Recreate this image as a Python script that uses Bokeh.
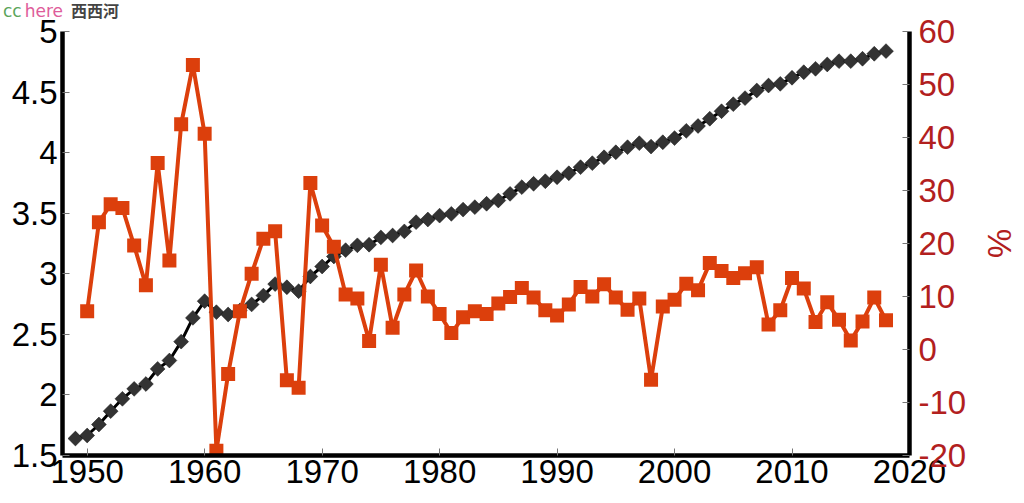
import numpy as np
from bokeh.plotting import figure
from bokeh.models import Range1d, LinearAxis, FixedTicker, Div
from bokeh.layouts import column
from bokeh.embed import file_html
from bokeh.resources import INLINE

# ---- data ----
level_years = list(range(1949, 2019))
level = [1.64, 1.665, 1.756, 1.866, 1.968, 2.05, 2.09, 2.215, 2.284, 2.44,
         2.636, 2.774, 2.683, 2.664, 2.697, 2.747, 2.82, 2.915, 2.889, 2.856,
         2.978, 3.06, 3.143, 3.195, 3.235, 3.24, 3.30, 3.316, 3.35, 3.426,
         3.448, 3.48, 3.495, 3.53, 3.55, 3.578, 3.605, 3.66, 3.715, 3.743,
         3.764, 3.797, 3.83, 3.88, 3.913, 3.962, 4.003, 4.045, 4.078, 4.05,
         4.086, 4.12, 4.18, 4.22, 4.28, 4.342, 4.40, 4.45, 4.513, 4.554,
         4.568, 4.618, 4.664, 4.692, 4.728, 4.755, 4.755, 4.775, 4.816, 4.838]

growth_years = list(range(1950, 2019))
growth = [7.2, 24.0, 27.4, 26.7, 19.6, 12.1, 35.2, 16.8, 42.5, 53.7,
          40.7, -19.1, -4.6, 7.2, 14.3, 20.9, 22.3, -5.8, -7.2, 31.4,
          23.4, 19.4, 10.4, 9.6, 1.6, 16.0, 4.1, 10.4, 14.9, 10.0,
          6.7, 3.1, 6.1, 7.2, 6.7, 8.7, 9.9, 11.6, 9.8, 7.4,
          6.4, 8.5, 11.8, 10.0, 12.3, 9.8, 7.5, 9.6, -5.7, 8.1,
          9.4, 12.4, 11.2, 16.3, 14.8, 13.5, 14.4, 15.5, 4.7, 7.4,
          13.5, 11.5, 5.2, 8.9, 5.6, 1.7, 5.3, 9.8, 5.5]

x_ticks = [1950, 1960, 1970, 1980, 1990, 2000, 2010, 2020]
left_ticks = [1.5, 2, 2.5, 3, 3.5, 4, 4.5, 5]
left_labels = ["1.5", "2", "2.5", "3", "3.5", "4", "4.5", "5"]
right_ticks = [-20, -10, 0, 10, 20, 30, 40, 50, 60]
right_labels = ["-20", "-10", "0", "10", "20", "30", "40", "50", "60"]
right_title = "%"
watermark = [("cc", "#5BA55B"), ("here", "#DE5C9A"), ("西西河", "#444444")]

BLACK = "#333333"
RED = "#DC3F0C"
DARKRED = "#B2201E"
FONT = "Liberation Sans"

W, H = 1024, 503
HEAD = 10  # height of the watermark strip (its text overflows onto the transparent figure border)

wm_html = (
    f'<span style="color:{watermark[0][1]};font-family:\'DejaVu Sans\';font-size:17px">{watermark[0][0]}</span>'
    f'<span style="color:{watermark[1][1]};font-family:\'DejaVu Sans\';font-size:17px;margin-left:3px">{watermark[1][0]}</span>'
    f'<span style="color:{watermark[2][1]};font-family:\'Noto Sans CJK SC\';font-size:16px;font-weight:bold;margin-left:8px">{watermark[2][0]}</span>'
)
div = Div(text=wm_html, width=W, height=HEAD, margin=(0, 0, 0, 0),
          styles={"padding-left": "3px", "padding-top": "1px", "line-height": "18px",
                  "white-space": "nowrap", "overflow": "visible"})

p = figure(width=W, height=H - HEAD, output_backend="svg", toolbar_location=None,
           x_range=Range1d(1947.9, 2020), y_range=Range1d(1.5, 5),
           min_border_left=62, min_border_right=115, min_border_top=31 - HEAD,
           min_border_bottom=48, margin=(0, 0, 0, 0))
p.extra_y_ranges = {"pct": Range1d(-20, 60)}
p.outline_line_color = None
p.xgrid.visible = False
p.ygrid.visible = False
p.background_fill_color = "white"
p.border_fill_color = None

# black series (level)
p.line(level_years, level, line_color="black", line_width=3)
p.scatter(level_years, level, marker="square", angle=np.pi / 4, size=10.5,
          fill_color=BLACK, line_color="#111111", line_width=0.5)

# red series (growth %)
p.line(growth_years, growth, y_range_name="pct", line_color=RED, line_width=4)
p.scatter(growth_years, growth, y_range_name="pct", marker="square", size=14,
          fill_color=RED, line_color=None)

def style_axis(ax, color):
    ax.axis_line_color = "black"
    ax.axis_line_width = 4.5
    ax.major_tick_in = 7
    ax.major_tick_out = 0
    ax.major_tick_line_color = "#777777"
    ax.major_tick_line_width = 1
    ax.minor_tick_line_color = None
    ax.major_label_text_font = FONT
    ax.major_label_text_font_size = "33px"
    ax.major_label_text_color = color

xa = p.xaxis[0]
style_axis(xa, "black")
xa.ticker = FixedTicker(ticks=x_ticks)
xa.major_label_standoff = 4

ya = p.yaxis[0]
style_axis(ya, "black")
ya.ticker = FixedTicker(ticks=left_ticks)
ya.major_label_overrides = {t: s for t, s in zip(left_ticks, left_labels)}
ya.major_label_standoff = 5

ra = LinearAxis(y_range_name="pct", ticker=FixedTicker(ticks=right_ticks))
style_axis(ra, DARKRED)
ra.major_label_overrides = {t: s for t, s in zip(right_ticks, right_labels)}
ra.major_label_standoff = 9
ra.axis_label = right_title
ra.axis_label_text_font = FONT
ra.axis_label_text_font_size = "33px"
ra.axis_label_text_font_style = "normal"
ra.axis_label_text_color = DARKRED
ra.axis_label_standoff = 12
p.add_layout(ra, "right")

layout = column(div, p, spacing=0, margin=(0, 0, 0, 0))
open("out.html", "w").write(file_html(layout, INLINE))
